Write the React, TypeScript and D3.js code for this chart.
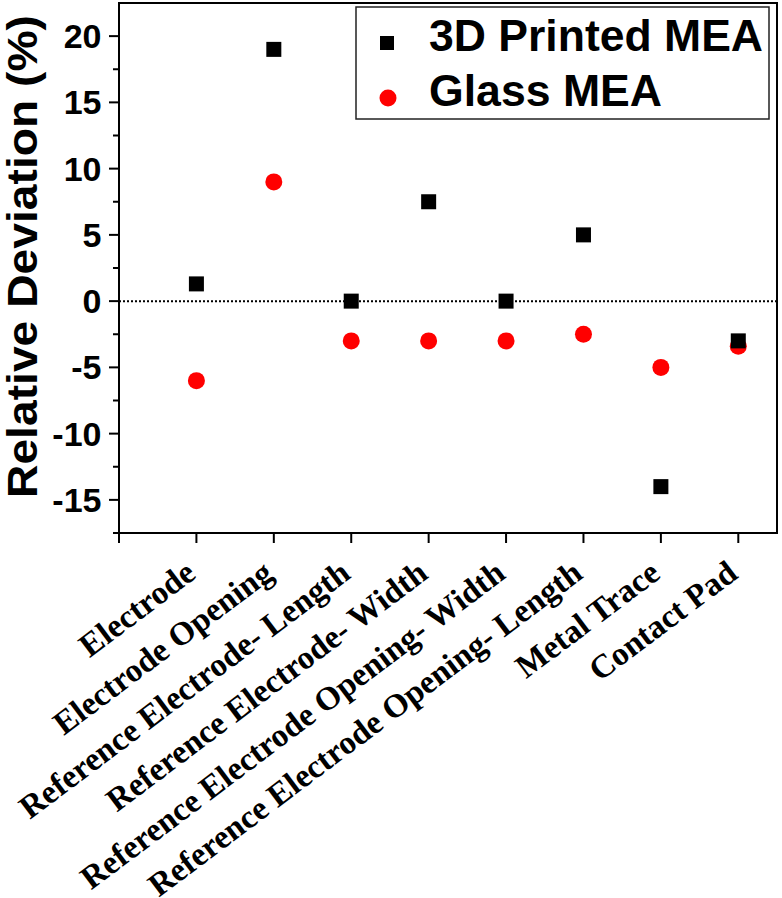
import React from "react";
import * as d3 from "d3";

const categories = [
  "Electrode",
  "Electrode Opening",
  "Reference Electrode- Length",
  "Reference Electrode- Width",
  "Reference Electrode Opening- Width",
  "Reference Electrode Opening- Length",
  "Metal Trace",
  "Contact Pad",
];
const printedValues = [1.3, 19, 0, 7.5, 0, 5, -14, -3];
const glassValues = [-6, 9, -3, -3, -3, -2.5, -5, -3.4];
const yMajorTicks = [-15, -10, -5, 0, 5, 10, 15, 20];
const yMinorTicks = [-17.5, -12.5, -7.5, -2.5, 2.5, 7.5, 12.5, 17.5];
const seriesNames = ["3D Printed MEA", "Glass MEA"];

const W = 782;
const H = 898;
const left = 119;
const right = 777;
const top = 3;
const bottom = 533;

export default function App() {
  const x = d3.scaleLinear().domain([0, 8.5]).range([left, right]);
  const y = d3.scaleLinear().domain([-17.5, 22.5]).range([bottom, top]);
  const xTicks = d3.range(0, 9);
  const sans = "'Liberation Sans', Arial, sans-serif";
  const serif = "'Liberation Serif', 'Times New Roman', serif";
  const sq = 15;
  const r = 8.5;
  const angle = -37;

  return (
    <svg
      width={W}
      height={H}
      style={{ position: "absolute", left: 0, top: 0, background: "#fff" }}
    >
      {/* zero line */}
      <line
        x1={left}
        x2={right}
        y1={y(0)}
        y2={y(0)}
        stroke="#000"
        strokeWidth={2}
        strokeDasharray="2,2"
      />
      {/* frame */}
      <rect
        x={left}
        y={top}
        width={right - left}
        height={bottom - top}
        fill="none"
        stroke="#000"
        strokeWidth={2}
      />
      {/* y ticks */}
      {yMajorTicks.map((t) => (
        <g key={"ym" + t}>
          <line x1={left - 10} x2={left} y1={y(t)} y2={y(t)} stroke="#000" strokeWidth={2} />
          <text
            x={101.5}
            y={y(t) + 12}
            textAnchor="end"
            fontFamily={sans}
            fontWeight="bold"
            fontSize={34}
          >
            {t}
          </text>
        </g>
      ))}
      {yMinorTicks.map((t) => (
        <line key={"yn" + t} x1={left - 6} x2={left} y1={y(t)} y2={y(t)} stroke="#000" strokeWidth={2} />
      ))}
      {/* x ticks */}
      {xTicks.map((t) => (
        <line key={"xt" + t} x1={x(t)} x2={x(t)} y1={bottom} y2={bottom + 10} stroke="#000" strokeWidth={2} />
      ))}
      {categories.map((c, i) => {
        const cx = x(i + 1) + 1;
        const cy = 577;
        return (
          <text
            key={c}
            transform={`translate(${cx},${cy}) rotate(${angle})`}
            textAnchor="end"
            fontFamily={serif}
            fontWeight="bold"
            fontSize={33}
          >
            {c}
          </text>
        );
      })}
      {/* y label */}
      <text
        transform={`translate(37,256.5) rotate(-90)`}
        textAnchor="middle"
        fontFamily={sans}
        fontWeight="bold"
        fontSize={43}
        textLength={483}
        lengthAdjust="spacingAndGlyphs"
      >
        Relative Deviation (%)
      </text>
      {/* markers */}
      {glassValues.map((v, i) => (
        <circle key={"g" + i} cx={x(i + 1)} cy={y(v)} r={r} fill="#ff0000" />
      ))}
      {printedValues.map((v, i) => (
        <rect
          key={"p" + i}
          x={x(i + 1) - sq / 2}
          y={y(v) - sq / 2}
          width={sq}
          height={sq}
          fill="#000"
        />
      ))}
      {/* legend */}
      <rect x={356} y={7} width={413} height={112} fill="#fff" stroke="#222" strokeWidth={1.5} />
      <rect x={387 - 7} y={43 - 7} width={14} height={14} fill="#000" />
      <circle cx={388} cy={98} r={8.5} fill="#ff0000" />
      <text x={429} y={51} fontFamily={sans} fontWeight="bold" fontSize={45} textLength={334} lengthAdjust="spacingAndGlyphs">
        {seriesNames[0]}
      </text>
      <text x={429} y={106} fontFamily={sans} fontWeight="bold" fontSize={45} textLength={233} lengthAdjust="spacingAndGlyphs">
        {seriesNames[1]}
      </text>
    </svg>
  );
}
